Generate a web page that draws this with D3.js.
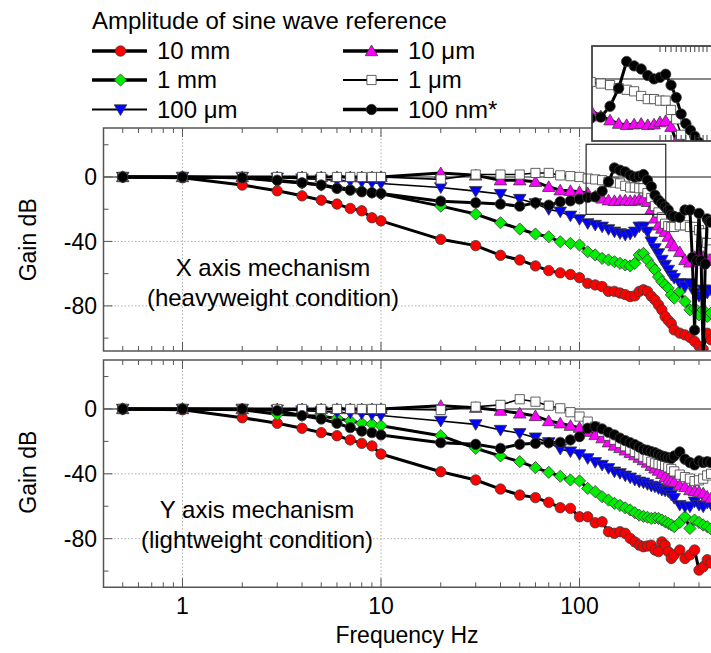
<!DOCTYPE html>
<html><head><meta charset="utf-8">
<script src="https://cdn.jsdelivr.net/npm/d3@7/dist/d3.min.js"></script>
<style>html,body{margin:0;padding:0;background:#fff;}svg{display:block;}</style>
</head><body>
<svg id="chart" width="711" height="653"></svg>
<script>
// ---------- DATA ----------
const freqs = [0.5,1,2,3,4,5,6,7,8,9,10,20,30,40,50,60,70,80,90,100,110,120,130,140,150,160,170,180,190,200,210,220,230,240,250,260,270,280,290,300,320,340,360,370,380,390,400,410,420,430,440,450,460];
const seriesLabels = ["10 mm","1 mm","100 \u03bcm","10 \u03bcm","1 \u03bcm","100 nm*"];
const legendTitle = "Amplitude of sine wave reference";
const panelTitles = [["X axis mechanism","(heavyweight condition)"],["Y axis mechanism","(lightweight condition)"]];
const xTickLabels = ["1","10","100"];
const yTickLabels = ["0","-40","-80"];
const xAxisTitle = "Frequency Hz";
const yAxisTitle = "Gain dB";

// X axis mechanism (heavyweight condition)
const x10mm  = [0,-0.5,-5,-8.6,-11.7,-14.4,-16.8,-19.5,-21,-25.3,-27.2,-38.7,-42.6,-48.6,-51.5,-55.2,-58.1,-59.5,-60.5,-62.5,-66,-67,-68,-71,-71,-72,-73,-74.2,-73.8,-71,-70,-71,-74,-76.3,-79.4,-82.5,-86.6,-89,-91,-94.9,-96.9,-98,-99.5,null,-102,null,-105,null,-107,null,-97,null,-101];
const x1mm   = [0,0,-0.5,-2.5,-3.8,-5,-6.5,-7.5,-8.5,-9.5,-10.5,-18.1,-23,-28.4,-32.3,-35.4,-37.1,-40.2,-41.2,-42.2,-46.4,-48.4,-50.5,-51.5,-52.6,-53.6,-54.6,-55.2,-53.6,-48.4,-47.4,-51.5,-55,-57.7,-62,-65,-67,-69,-73.2,-75.2,-71.1,-77.3,-82.5,null,-81.4,null,-85.6,null,-82.5,null,-86.6,null,-84.5];
const x100um = [0,0,0,-0.5,-1,-1.5,-2,-2.5,-3,-3.5,-4,-6.5,-8.8,-10.6,-13.7,-16.4,-20.1,-21.6,-24.1,-26.3,-28.8,-29.8,-30.9,-32.5,-34,-35,-36,-35.4,-34,-30.9,-30.9,-34,-40.2,-44.3,-47.4,-51.5,-54.6,-57.7,-60.8,-62.8,-65.9,-68,-66,null,-72,null,-74,null,-70,null,-72,null,-70];
const x10um  = [0,0,0,0,0,0,0,0,0,0,0,2.5,1,-2,-2,-3,-6.1,-8.2,-8.6,-9.2,-10,-12,-13.3,-14.4,-14.8,-14.6,-14.4,-14.8,-14.6,-13.9,-13.5,-15.4,-20,-25.7,-30,-32,-34,-37,-41,-43,-46.5,-51.5,-53,null,-49.5,null,-48.4,null,-49.5,null,-52,null,-50];
const x1um   = [0,0,0,0,0,0,0,0,0,0,0,-1.5,1.5,1.5,1.5,2.5,2.5,1,0.5,0,-1,-1.5,-2,-3,-3.5,-4,-5.5,-6.5,-6.5,-7,-7,-10,-13,-18,-22,-25,-29,-30.5,-31,-31,-30,-30,-31,null,-31,null,-33,null,-35,null,-41,null,-45];
const x100nm = [0,0,-0.5,-2,-3.6,-5,-7.1,-8.2,-9.2,-9.8,-10.2,-15,-16,-16.8,-18.1,-16,-17.5,-15.4,-14.8,-13.7,-12.7,-12.3,-8.8,-3,5.6,4.2,3.2,1.1,0,0.5,1.5,-2,-6,-11.3,-14.4,-16.5,-18.5,-20.5,-23.7,-24.5,-25,-20.5,-20.5,-50,-95,-52,-22.6,-52,-112,-54,-26,-27.8,-28];

// Y axis mechanism (lightweight condition)
const y10mm  = [0,-0.5,-5.4,-8.8,-11.9,-14.6,-16.5,-19.1,-21.2,-22.8,-27.8,-38.7,-43.8,-49.4,-53.1,-54.7,-57.6,-60.9,-61.3,-66.5,-66.5,-70.2,-69.6,-75.7,-76.7,-75.7,-76.7,-79.8,-82,-84,-85,-84.5,-84,-87,-88,-82,-84,-88,-92.2,-90,-87,-92.2,-90,null,-87,null,-99.4,null,-97.3,null,-93,null,-95];
const y1mm   = [0,0,-0.5,-3.3,-4,-4.5,-5.8,-7.4,-8.8,-9.3,-10.3,-16.5,-24.3,-29,-32.5,-36.2,-39.1,-41.5,-43.8,-44.4,-49,-51,-54.1,-56.2,-58.2,-59.5,-61,-62.3,-64,-65.5,-66.2,-66.8,-67.5,-67.2,-67.5,-68.5,-69.5,-70.6,-71.5,-72.6,-70,-66.5,-73.7,null,-68.5,null,-70,null,-71.6,null,-72.6,null,-74];
const y100um = [0,0,0,-0.5,-1,-1.5,-2,-2.5,-3,-3.5,-4,-7.4,-9.5,-13,-15,-17.7,-20.6,-24.7,-26.3,-28,-30.5,-32.9,-34.6,-36.6,-38.7,-39.7,-41.2,-42.4,-43.8,-44.9,-45.5,-46.5,-47.5,-48,-49,-50,-50.5,-51,-53,-55,-59.3,-60.3,-60.3,null,-57.2,null,-59.3,null,-60.3,null,-58,null,-59];
const y10um  = [0,0,0,0,0,0,0,0,0,0,0,2,0.8,-1,-2.7,-4.3,-7.4,-8.8,-10.3,-11.5,-14,-16,-18,-20.5,-22.5,-24,-25.5,-27,-28.5,-30,-31.5,-33,-35,-36.6,-38,-40,-42,-43.8,-44.5,-45,-47,-48,-50,null,-50.5,null,-51,null,-52,null,-54,null,-55];
const y1um   = [0,0,0,0,0,0,0,0,0,0,0,-0.6,1.4,2.5,6,4.5,2,0.4,-2,-4.7,-7.8,-11,-14,-16.5,-19,-21,-23,-25,-26.5,-28,-29.5,-31,-32.5,-33.5,-34,-34.5,-35,-36,-37,-38.5,-40.5,-42,-43,null,-44.5,null,-44,null,-43,null,-41,null,-40];
const y100nm = [0,0,0,-1,-4.1,-6.2,-8.8,-11.5,-13.6,-14.6,-16,-20.8,-21.8,-24.3,-21.8,-21.2,-20.8,-20.6,-19.1,-17.1,-11.9,-10.9,-12.3,-14.4,-16,-18,-19.5,-20.8,-22,-23.5,-25,-25.5,-26.3,-27,-28,-29,-29.5,-30,-30.5,-29,-26.5,-31,-33,null,-34.5,null,-32,null,-33,null,-32.5,null,-33];

// zoom window shown in the inset (Hz, dB)
const zoomBox = {f0:108, f1:272, g0:20.3, g1:-23.2};

// ---------- STYLE ----------
const FONT = "'Liberation Sans', Arial, Helvetica, sans-serif";
const styles = [
  {shape:"circle",  fill:"#ff0000", lw:3},
  {shape:"diamond", fill:"#00ee00", lw:3},
  {shape:"tridown", fill:"#0000ff", lw:1.6},
  {shape:"triup",   fill:"#ff00ff", lw:3},
  {shape:"square",  fill:"#ffffff", lw:1.6},
  {shape:"circle",  fill:"#000000", lw:3}
];
function markerPath(shape){
  switch(shape){
    case "circle": {const r=5.2; return `M${r},0A${r},${r} 0 1,1 ${-r},0A${r},${r} 0 1,1 ${r},0Z`;}
    case "diamond": {const h=6.1; return `M0,${-h}L${h},0L0,${h}L${-h},0Z`;}
    case "triup": return "M0,-6L6.3,4.7L-6.3,4.7Z";
    case "tridown": return "M0,6L6.3,-4.7L-6.3,-4.7Z";
    case "square": return "M-4.6,-4.6h9.2v9.2h-9.2Z";
  }
}

const svg = d3.select("#chart");
const defs = svg.append("defs");
const W = 711;
const x = d3.scaleLog().domain([0.4, 1000]).range([103.5, 778]);
const LEFT = x.range()[0];

const panels = [
  {y: d3.scaleLinear().domain([-108, 30.4]).range([351, 128]), series:[x10mm,x1mm,x100um,x10um,x1um,x100nm], titles:panelTitles[0], tx:273, ty:[276, 306]},
  {y: d3.scaleLinear().domain([-110, 30.2]).range([587.3, 360]), series:[y10mm,y1mm,y100um,y10um,y1um,y100nm], titles:panelTitles[1], tx:257, ty:[518, 548]}
];

const isDecade = t => Math.abs(Math.log10(t) - Math.round(Math.log10(t))) < 1e-9;
const xTicksAll = x.ticks().filter(t => x(t) > LEFT + 1 && x(t) < W);
const xMajor = xTicksAll.filter(isDecade);

function drawSeries(g, xs, ys, vals, st){
  const pts = freqs.map((f,i)=>({f, v: vals[i]})).filter(d => d.v != null);
  g.append("path").datum(pts)
    .attr("fill","none").attr("stroke","#000").attr("stroke-width",st.lw).attr("stroke-linejoin","round")
    .attr("d", d3.line().x(d=>xs(d.f)).y(d=>ys(d.v)));
  g.selectAll(null).data(pts).join("path")
    .attr("transform", d=>`translate(${xs(d.f)},${ys(d.v)})`)
    .attr("d", markerPath(st.shape))
    .attr("fill", st.fill).attr("stroke","#3a3a3a").attr("stroke-width",0.8);
}

panels.forEach((p, pi) => {
  const [yb, yt] = p.y.range();
  const g = svg.append("g");
  defs.append("clipPath").attr("id","clip"+pi).append("rect")
    .attr("x", LEFT).attr("y", yt).attr("width", W - LEFT + 5).attr("height", yb - yt);

  const yTicks = p.y.ticks(7);
  const yMajor = yTickLabels.map(Number);
  g.selectAll(null).data(xMajor).join("line")
    .attr("x1", d=>x(d)).attr("x2", d=>x(d)).attr("y1", yt).attr("y2", yb)
    .attr("stroke","#b0b0b0").attr("stroke-width",1).attr("stroke-dasharray","1.5,2");
  g.selectAll(null).data(yMajor.filter(v=>v!==0)).join("line")
    .attr("x1", LEFT).attr("x2", W).attr("y1", d=>p.y(d)).attr("y2", d=>p.y(d))
    .attr("stroke","#b0b0b0").attr("stroke-width",1).attr("stroke-dasharray","1.5,2");
  g.append("line").attr("x1", LEFT).attr("x2", W).attr("y1", p.y(0)).attr("y2", p.y(0))
    .attr("stroke","#8a8a8a").attr("stroke-width",2);

  const dg = g.append("g").attr("clip-path", `url(#clip${pi})`);
  p.series.forEach((vals, si) => drawSeries(dg, x, p.y, vals, styles[si]));

  g.append("path").attr("d", `M${W+2},${yt}H${LEFT}V${yb}H${W+2}`)
    .attr("fill","none").attr("stroke","#555").attr("stroke-width",1.5);
  xTicksAll.forEach(t => {
    const L = isDecade(t) ? 9 : 5;
    g.append("line").attr("x1",x(t)).attr("x2",x(t)).attr("y1",yb).attr("y2",yb-L).attr("stroke","#555").attr("stroke-width",1);
    g.append("line").attr("x1",x(t)).attr("x2",x(t)).attr("y1",yt).attr("y2",yt+L).attr("stroke","#555").attr("stroke-width",1);
  });
  yTicks.forEach(t => {
    const L = yMajor.includes(t) ? 9 : 5;
    g.append("line").attr("x1",LEFT).attr("x2",LEFT+L).attr("y1",p.y(t)).attr("y2",p.y(t)).attr("stroke","#555").attr("stroke-width",1);
  });
  g.selectAll(null).data(yTickLabels).join("text")
    .attr("x", 97).attr("y", d=>p.y(+d)+8.5).attr("text-anchor","end")
    .attr("font-family",FONT).attr("font-size",23).attr("fill","#000").text(d=>d);
  const cy = (p.y(-108) + p.y(30)) / 2;
  g.append("text").attr("transform",`translate(36,${cy}) rotate(-90)`).attr("text-anchor","middle")
    .attr("font-family",FONT).attr("font-size",23).attr("fill","#000").text(yAxisTitle);
  p.titles.forEach((t,k) => g.append("text").attr("x",p.tx).attr("y",p.ty[k]).attr("text-anchor","middle")
    .attr("font-family",FONT).attr("font-size",24).attr("fill","#000").text(t));
});

const pTop = panels[0];
svg.append("rect")
  .attr("x", x(zoomBox.f0)).attr("y", pTop.y(zoomBox.g0))
  .attr("width", x(zoomBox.f1)-x(zoomBox.f0)).attr("height", pTop.y(zoomBox.g1)-pTop.y(zoomBox.g0))
  .attr("fill","none").attr("stroke","#222").attr("stroke-width",1.2);

svg.selectAll(null).data(xTickLabels).join("text")
  .attr("x", d=>x(+d)).attr("y", 614).attr("text-anchor","middle")
  .attr("font-family",FONT).attr("font-size",23).attr("fill","#000").text(d=>d);
svg.append("text").attr("x", 407).attr("y", 643).attr("text-anchor","middle")
  .attr("font-family",FONT).attr("font-size",23).attr("fill","#000").text(xAxisTitle);

// ---------- INSET ----------
const xi = d3.scaleLog().domain([200, 300]).range([660, 707]);
const yi = d3.scaleLinear().domain([-20, 10.6]).range([141, 46]);
const ig = svg.append("g");
const iL = 592, iT = yi.range()[1], iB = yi.range()[0];
ig.append("rect").attr("x", iL).attr("y", iT).attr("width", W - iL + 5).attr("height", iB - iT)
  .attr("fill","#fff").attr("stroke","#444").attr("stroke-width",1.4);
defs.append("clipPath").attr("id","clipI").append("rect").attr("x", iL).attr("y", iT).attr("width", W - iL + 5).attr("height", iB - iT);
ig.append("line").attr("x1", iL).attr("x2", W).attr("y1", yi(0)).attr("y2", yi(0)).attr("stroke","#8a8a8a").attr("stroke-width",2);
const idg = ig.append("g").attr("clip-path","url(#clipI)");
pTop.series.forEach((vals, si) => { if (si >= 3) drawSeries(idg, xi, yi, vals, styles[si]); });
ig.append("rect").attr("x", iL).attr("y", iT).attr("width", W - iL + 5).attr("height", iB - iT)
  .attr("fill","none").attr("stroke","#444").attr("stroke-width",1.4);
xi.ticks().filter(t => xi(t) > iL + 2 && xi(t) < W).forEach(t => {
  ig.append("line").attr("x1",xi(t)).attr("x2",xi(t)).attr("y1",iT).attr("y2",iT+6).attr("stroke","#444");
  ig.append("line").attr("x1",xi(t)).attr("x2",xi(t)).attr("y1",iB).attr("y2",iB-6).attr("stroke","#444");
});

// ---------- LEGEND ----------
svg.append("text").attr("x", 92).attr("y", 28.5).attr("font-family",FONT).attr("font-size",24).attr("fill","#000").text(legendTitle);
seriesLabels.forEach((lab, i) => {
  const col = Math.floor(i/3), row = i%3;
  const x0 = col === 0 ? 92 : 343;
  const ly = [51, 80, 109.5][row];
  const lg = svg.append("g");
  lg.append("line").attr("x1", x0).attr("x2", x0+55).attr("y1", ly).attr("y2", ly)
    .attr("stroke","#000").attr("stroke-width", styles[i].lw + 0.3);
  lg.append("path").attr("transform", `translate(${x0+28.5},${ly})`).attr("d", markerPath(styles[i].shape))
    .attr("fill", styles[i].fill).attr("stroke","#3a3a3a").attr("stroke-width",0.8);
  lg.append("text").attr("x", x0+65).attr("y", ly+8).attr("font-family",FONT).attr("font-size",24).attr("fill","#000").text(lab);
});
</script>
</body></html>
